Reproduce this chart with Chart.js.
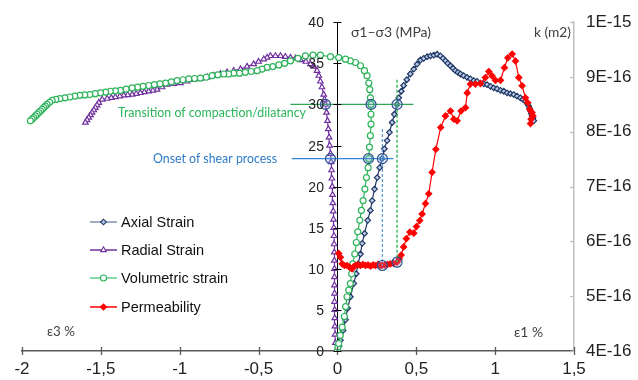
<!DOCTYPE html>
<html><head><meta charset="utf-8">
<script src="https://cdn.jsdelivr.net/npm/chart.js@4"></script>
<style>html,body{margin:0;padding:0;background:#fff}#wrap{width:638px;height:380px;position:relative}</style>
</head><body><div id="wrap"><canvas id="c" width="638" height="380"></canvas></div>
<script>
// ---- axes ----
const X_TICKS = [-2, -1.5, -1, -0.5, 0, 0.5, 1, 1.5];
const Y_TICKS = [0, 5, 10, 15, 20, 25, 30, 35, 40];
const K_TICKS = [4e-16, 5e-16, 6e-16, 7e-16, 8e-16, 9e-16, 1e-15];
const K_LABELS = ['4E-16', '5E-16', '6E-16', '7E-16', '8E-16', '9E-16', '1E-15'];

// ---- Axial strain (eps1 %, sigma1-sigma3 MPa) ----
const axialX = [0,0.01,0.019,0.036,0.051,0.065,0.082,0.104,0.119,0.131,0.146,0.157,0.172,0.192,0.209,0.22,0.235,0.252,0.268,0.283,0.298,0.315,0.33,0.347,0.361,0.378,0.389,0.405,0.42,0.44,0.462,0.484,0.505,0.526,0.547,0.569,0.59,0.611,0.632,0.653,0.67,0.685,0.70,0.717,0.733,0.748,0.764,0.78,0.80,0.822,0.843,0.865,0.886,0.907,0.928,0.949,0.97,0.991,1.012,1.034,1.055,1.076,1.097,1.118,1.139,1.16,1.176,1.192,1.203,1.213,1.219,1.224,1.229,1.234,1.24,1.245];
const axialY = [0,0.6,1.3,2.5,3.8,5.2,6.6,8.2,9.4,10.6,11.8,13.1,14.3,15.9,17.1,18.3,19.7,21.1,22.3,23.4,24.6,25.6,26.6,27.8,28.8,30.0,30.8,31.6,32.3,33.0,33.7,34.3,34.9,35.4,35.6,35.8,35.9,36.0,36.1,35.9,35.6,35.3,35.0,34.7,34.4,34.1,33.9,33.7,33.5,33.3,33.1,32.9,32.8,32.6,32.5,32.4,32.2,32.0,31.9,31.7,31.6,31.4,31.3,31.2,31.0,30.8,30.6,30.4,30.1,29.8,29.5,29.2,28.9,28.6,28.3,28.0];

// ---- Radial strain (eps3 %) ----
const radialX = [0,-0.013,-0.015,-0.016,-0.017,-0.017,-0.018,-0.018,-0.019,-0.019,-0.019,-0.02,-0.02,-0.021,-0.022,-0.023,-0.025,-0.027,-0.029,-0.031,-0.033,-0.035,-0.037,-0.04,-0.044,-0.049,-0.053,-0.058,-0.063,-0.069,-0.076,-0.082,-0.087,-0.098,-0.108,-0.118,-0.129,-0.15,-0.171,-0.2,-0.235,-0.266,-0.298,-0.33,-0.361,-0.393,-0.425,-0.446,-0.467,-0.5,-0.531,-0.573,-0.615,-0.658,-0.7,-0.742,-0.784,-0.826,-0.869,-0.911,-0.953,-0.995,-1.037,-1.08,-1.112,-1.144,-1.17,-1.197,-1.224,-1.25,-1.276,-1.302,-1.33,-1.355,-1.38,-1.408,-1.434,-1.46,-1.492,-1.513,-1.524,-1.535,-1.545,-1.556,-1.566,-1.577,-1.588,-1.598];
const radialY = [0,1,2,3,4,5,6,7,8,9,10,11,12,13,14,15,16,17,18,19,20,21,22,23,24,25,26,27,28,29,30,30.6,31.2,32.1,32.8,33.5,34.1,34.6,34.9,35.2,35.4,35.6,35.7,35.8,35.9,35.9,35.9,35.7,35.5,35.2,34.9,34.6,34.3,34.1,33.9,33.7,33.5,33.3,33.1,33.0,32.8,32.6,32.5,32.4,32.1,31.8,31.7,31.6,31.5,31.4,31.3,31.2,31.15,31.1,31.0,30.9,30.8,30.7,30.6,30.2,29.9,29.6,29.3,29.0,28.7,28.4,28.1,27.8];

// ---- Volumetric strain ----
const volX = [0,0.003,0.008,0.018,0.03,0.044,0.052,0.061,0.072,0.082,0.09,0.097,0.11,0.12,0.129,0.142,0.152,0.163,0.174,0.184,0.195,0.199,0.203,0.209,0.213,0.213,0.213,0.209,0.205,0.199,0.188,0.171,0.146,0.114,0.082,0.051,0.008,-0.044,-0.108,-0.155,-0.203,-0.25,-0.298,-0.335,-0.372,-0.41,-0.446,-0.478,-0.509,-0.547,-0.584,-0.621,-0.658,-0.69,-0.721,-0.758,-0.795,-0.832,-0.869,-0.906,-0.943,-0.98,-1.017,-1.053,-1.09,-1.125,-1.161,-1.197,-1.233,-1.267,-1.302,-1.34,-1.376,-1.408,-1.44,-1.47,-1.503,-1.536,-1.57,-1.602,-1.634,-1.665,-1.697,-1.728,-1.76,-1.785,-1.809,-1.825,-1.841,-1.852,-1.862,-1.872,-1.883,-1.894,-1.904,-1.915,-1.926,-1.936,-1.947];
const volY = [0,0.5,0.9,1.9,2.9,4.2,5.4,6.6,7.4,8.2,9.4,10.6,11.8,13.2,14.5,15.9,17.1,18.3,19.7,21.1,22.3,23.4,24.8,26.2,27.6,28.8,30.0,30.8,31.8,32.6,33.5,34.1,34.7,35.1,35.3,35.5,35.7,35.8,36.0,36.0,35.9,35.6,35.3,35.0,34.8,34.6,34.5,34.3,34.1,34.0,33.9,33.8,33.8,33.7,33.7,33.6,33.5,33.3,33.2,33.15,33.1,33.0,32.9,32.75,32.6,32.5,32.4,32.3,32.2,32.1,32.0,31.85,31.7,31.65,31.6,31.5,31.4,31.3,31.2,31.15,31.1,31.0,30.9,30.8,30.7,30.6,30.5,30.25,30.0,29.8,29.6,29.4,29.2,29.0,28.8,28.6,28.4,28.2,28.0];

// ---- Permeability (k, m2) vs eps1 % ----
const permX = [0.008,0.019,0.03,0.045,0.061,0.077,0.093,0.104,0.114,0.13,0.146,0.162,0.178,0.194,0.21,0.226,0.242,0.258,0.27,0.283,0.3,0.318,0.336,0.355,0.378,0.392,0.404,0.42,0.437,0.459,0.484,0.501,0.522,0.537,0.558,0.579,0.6,0.624,0.655,0.685,0.717,0.738,0.759,0.784,0.812,0.823,0.843,0.875,0.907,0.938,0.96,0.981,1.002,1.034,1.059,1.08,1.108,1.129,1.15,1.171,1.192,1.207,1.219,1.234,1.24,1.228,1.224];
const permK = [5.78e-16,5.71e-16,5.59e-16,5.56e-16,5.56e-16,5.53e-16,5.50e-16,5.54e-16,5.56e-16,5.57e-16,5.56e-16,5.58e-16,5.56e-16,5.57e-16,5.55e-16,5.57e-16,5.56e-16,5.58e-16,5.56e-16,5.56e-16,5.57e-16,5.58e-16,5.59e-16,5.60e-16,5.62e-16,5.68e-16,5.75e-16,5.90e-16,6.05e-16,6.17e-16,6.15e-16,6.27e-16,6.38e-16,6.50e-16,6.69e-16,6.87e-16,7.26e-16,7.68e-16,8.08e-16,8.29e-16,8.38e-16,8.23e-16,8.20e-16,8.38e-16,8.44e-16,8.71e-16,8.87e-16,8.87e-16,8.88e-16,8.99e-16,9.10e-16,9.02e-16,8.94e-16,8.94e-16,9.17e-16,9.35e-16,9.42e-16,9.29e-16,8.99e-16,8.84e-16,8.62e-16,8.53e-16,8.41e-16,8.35e-16,8.29e-16,8.23e-16,8.15e-16];

// ---- annotations (data coordinates) ----
const transX = [-0.298, 0.482]; const transY = [30, 30];
const onsetX = [-0.29, 0.355];  const onsetY = [23.4, 23.4];
const onsetVX = [0.285, 0.285]; const onsetVY = [27.0, 10.4];
const transVX = [0.378, 0.378]; const transVY = [33.0, 10.8];
const circX = [-0.076, 0.213, 0.378, -0.044, 0.197, 0.285];
const circY = [30, 30, 30, 23.4, 23.4, 23.4];
const circKX = [0.285, 0.378];
const circKK = [5.56e-16, 5.62e-16];

const SERIES_NAMES = ['Axial Strain', 'Radial Strain', 'Volumetric strain', 'Permeability'];

const C_AX = '#1F3864', C_RAD = '#7030A0', C_VOL = '#2DB35A', C_PERM = '#FF0000';
const C_GREEN_TXT = '#2BB55A', C_BLUE = '#2E86D6', C_BLUE_TXT = '#2E7BC8';

function pts(xs, ys) { return xs.map((x, i) => ({x: x, y: ys[i]})); }

const FONT = "'Liberation Sans', Arial, sans-serif";
const FONT2 = "Lato, 'Open Sans', sans-serif";

// draw text at a given font size, squeezed horizontally to a target width
function fitText(ctx, text, family, size, targetW, x, y, color) {
  ctx.save();
  ctx.font = size + 'px ' + family;
  const w = ctx.measureText(text).width;
  const sx = targetW / w;
  ctx.fillStyle = color;
  ctx.textAlign = 'left';
  ctx.textBaseline = 'middle';
  ctx.translate(x, y);
  ctx.scale(sx, 1);
  ctx.fillText(text, 0, 0);
  ctx.restore();
}

const overlay = {
  id: 'overlay',
  afterDraw(chart) {
    const ctx = chart.ctx;
    const xs = chart.scales.x, ys = chart.scales.y, ks = chart.scales.y1;
    ctx.save();
    // cross ticks on x axis
    ctx.strokeStyle = '#595959'; ctx.lineWidth = 1.3;
    const yb = chart.chartArea.bottom;
    X_TICKS.forEach(v => { const p = Math.round(xs.getPixelForValue(v)) + 0.5; ctx.beginPath(); ctx.moveTo(p, yb - 4); ctx.lineTo(p, yb + 4); ctx.stroke(); });
    // cross ticks and labels on the centred y axis
    ctx.strokeStyle = '#000'; ctx.lineWidth = 1;
    const x0 = xs.getPixelForValue(0);
    ctx.font = '14px ' + FONT; ctx.fillStyle = '#222'; ctx.textAlign = 'right'; ctx.textBaseline = 'middle';
    ys.ticks.forEach(t => {
      const p = Math.round(ys.getPixelForValue(t.value)) + 0.5;
      ctx.beginPath(); ctx.moveTo(x0 - 4, p); ctx.lineTo(x0 + 4, p); ctx.stroke();
      ctx.fillText(String(t.value), x0 - 13.5, p + 0.5);
    });
    // inward ticks on k axis
    ctx.strokeStyle = '#BFBFBF'; ctx.lineWidth = 1.3;
    const xr = chart.chartArea.right;
    K_TICKS.forEach(v => { const p = Math.round(ks.getPixelForValue(v)) + 0.5; ctx.beginPath(); ctx.moveTo(xr - 4, p); ctx.lineTo(xr, p); ctx.stroke(); });

    // axis titles
    fitText(ctx, 'σ1–σ3 (MPa)', FONT2, 12.5, 80, 351, 33, '#404040');
    fitText(ctx, 'k (m2)', FONT2, 12.5, 37, 534, 33, '#404040');
    fitText(ctx, 'ε3 %', FONT2, 12.5, 28, 47, 332, '#404040');
    fitText(ctx, 'ε1 %', FONT2, 12.5, 29, 514, 333, '#404040');
    // annotation texts
    fitText(ctx, 'Transition of compaction/dilatancy', FONT2, 13.5, 188, 118, 113, C_GREEN_TXT);
    fitText(ctx, 'Onset of shear process', FONT2, 13.5, 124, 153, 159, C_BLUE_TXT);

    // legend
    const ds = [chart.data.datasets[9], chart.data.datasets[8], chart.data.datasets[7], chart.data.datasets[6]];
    const ly = [222, 250, 278, 307];
    ds.forEach((d, i) => {
      const y = ly[i];
      ctx.strokeStyle = i === 0 ? '#7f8fab' : (i === 2 ? '#5fcf86' : d.borderColor);
      ctx.lineWidth = 1.5;
      ctx.beginPath(); ctx.moveTo(90, y); ctx.lineTo(117, y); ctx.stroke();
      ctx.strokeStyle = d.borderColor; ctx.fillStyle = d.backgroundColor; ctx.lineWidth = 1.1;
      Chart.helpers.drawPoint(ctx, {pointStyle: d.pointStyle, radius: d.pointRadius, borderWidth: 1.1, rotation: 0}, 103.5, y);
      ctx.fillStyle = '#111'; ctx.font = '14.5px ' + FONT; ctx.textAlign = 'left'; ctx.textBaseline = 'middle';
      ctx.fillText(SERIES_NAMES[i], 121, y + 1);
    });
    ctx.restore();
  }
};

const lineDs = (xs, ys, color, dash) => ({data: pts(xs, ys), showLine: true, borderColor: color, borderWidth: 1.3, pointRadius: 0, borderDash: dash || [], yAxisID: 'y'});

new Chart(document.getElementById('c'), {
  type: 'scatter',
  data: {
    datasets: [
      {data: pts(circX, circY), yAxisID: 'y', showLine: false, pointStyle: 'circle', pointRadius: 5, borderColor: '#2F4F8F', backgroundColor: 'rgba(120,160,215,0.25)', borderWidth: 1.2},
      {data: pts(circKX, circKK), yAxisID: 'y1', showLine: false, pointStyle: 'circle', pointRadius: 5, borderColor: '#2F4F8F', backgroundColor: 'rgba(120,160,215,0.25)', borderWidth: 1.2},
      lineDs(transX, transY, '#2EA853'),
      lineDs(onsetX, onsetY, C_BLUE),
      lineDs(onsetVX, onsetVY, '#5B9BD5', [3, 2]),
      lineDs(transVX, transVY, '#22B14C', [3, 2]),
      {label: 'Permeability', data: pts(permX, permK), yAxisID: 'y1', showLine: true, borderColor: C_PERM, backgroundColor: C_PERM, borderWidth: 1.2, pointStyle: 'rectRot', pointRadius: 3},
      {label: 'Volumetric strain', data: pts(volX, volY), yAxisID: 'y', showLine: true, borderColor: C_VOL, backgroundColor: '#ffffff', borderWidth: 1.2, pointStyle: 'circle', pointRadius: 3},
      {label: 'Radial Strain', data: pts(radialX, radialY), yAxisID: 'y', showLine: true, borderColor: C_RAD, backgroundColor: '#ffffff', borderWidth: 1.2, pointStyle: 'triangle', pointRadius: 3.2},
      {label: 'Axial Strain', data: pts(axialX, axialY), yAxisID: 'y', showLine: true, borderColor: C_AX, backgroundColor: '#b9c9e6', borderWidth: 1.2, pointStyle: 'rectRot', pointRadius: 2.8}
    ]
  },
  options: {
    responsive: false, devicePixelRatio: 1, animation: false, events: [],
    layout: {padding: {left: 22, top: 21, right: 0, bottom: 0}},
    plugins: {legend: {display: false}, tooltip: {enabled: false}},
    scales: {
      x: {
        type: 'linear', position: 'bottom', min: -2, max: 1.5,
        afterFit(s) { s.height = 29; },
        afterBuildTicks(s) { s.ticks = X_TICKS.map(v => ({value: v})); },
        grid: {drawOnChartArea: false, drawTicks: false},
        border: {color: '#595959', width: 1.5},
        ticks: {padding: 8, color: '#222', font: {family: FONT, size: 17}, callback: v => String(v).replace('.', ',')}
      },
      y: {
        type: 'linear', axis: 'y', position: {x: 0}, min: 0, max: 40,
        afterBuildTicks(s) { s.ticks = Y_TICKS.map(v => ({value: v})); },
        grid: {drawOnChartArea: false, drawTicks: false},
        border: {color: '#000', width: 1},
        ticks: {display: false}
      },
      y1: {
        type: 'linear', axis: 'y', position: 'right', min: 4e-16, max: 1e-15,
        afterFit(s) { s.width = 64; },
        afterBuildTicks(s) { s.ticks = K_TICKS.map(v => ({value: v})); },
        grid: {drawOnChartArea: false, drawTicks: false},
        border: {color: '#BFBFBF', width: 1.5},
        ticks: {padding: 12, color: '#222', font: {family: FONT, size: 17}, callback: (v, i) => K_LABELS[i]}
      }
    }
  },
  plugins: [overlay]
});
</script>
</body></html>
